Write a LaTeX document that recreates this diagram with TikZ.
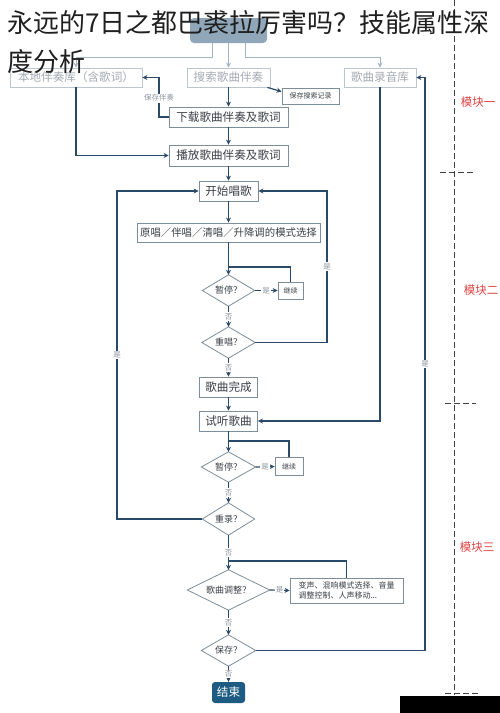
\documentclass[tikz,border=0pt]{standalone}
\usepackage{fontspec}
\newfontfamily\cjk{Noto Sans CJK SC}
\usetikzlibrary{arrows.meta,calc}
\definecolor{lnc}{HTML}{2B4A6A}
\definecolor{lnlight}{HTML}{A3B5C4}
\definecolor{bx}{HTML}{7D8D99}
\definecolor{bxlight}{HTML}{BCC6CE}
\definecolor{tx}{HTML}{3A3F45}
\definecolor{txlight}{HTML}{A3ABB3}
\definecolor{labc}{HTML}{8E969E}
\definecolor{modred}{HTML}{E04040}
\definecolor{topfill}{HTML}{8FA7B8}
\definecolor{endfill}{HTML}{1D5B82}
\begin{document}
\begin{tikzpicture}[x=1pt,y=-1pt,
  box/.style={draw=bx, line width=0.8pt, fill=white, inner sep=0pt, font=\cjk\fontsize{11.6}{12}\selectfont, text=tx},
  boxlt/.style={box, draw=bxlight, text=txlight},
  sbox/.style={box, font=\cjk\fontsize{7}{8}\selectfont},
  dnode/.style={inner sep=0pt, font=\cjk\fontsize{9}{10}\selectfont, text=tx},
  dia/.style={draw=bx, line width=0.8pt},
  conn/.style={draw=lnc, line width=1.2pt},
  arr/.style={conn, -{Stealth[length=5pt,width=5pt]}},
  arrlt/.style={draw=lnlight, line width=1pt, -{Stealth[length=5pt,width=5pt]}},
  lab/.style={fill=white, inner sep=1pt, font=\cjk\fontsize{7.5}{8}\selectfont, text=labc},
  modlab/.style={font=\cjk\fontsize{11.5}{12}\selectfont, text=modred, inner sep=0pt},
  divider/.style={draw=black!75, line width=0.8pt, dash pattern=on 6pt off 3pt}
]
\useasboundingbox (0,0) rectangle (500,713);

% top row
\node[fill=topfill, rounded corners=4pt, minimum width=77pt, minimum height=25pt] (top) at (228.5,30.5) {};
\node[boxlt, minimum width=132pt, minimum height=19pt] (local) at (76,77.5) {本地伴奏库（含歌词）};
\node[boxlt, minimum width=83pt, minimum height=19pt] (search) at (228.5,77.5) {搜索歌曲伴奏};
\node[boxlt, minimum width=72pt, minimum height=19pt] (rec) at (380,77.5) {歌曲录音库};
\node[sbox, minimum width=57pt, minimum height=16pt] (ss) at (310.5,96) {保存搜索记录};
\node[box, minimum width=119pt, minimum height=20pt] (dl) at (228.5,117) {下载歌曲伴奏及歌词};
\node[box, minimum width=119pt, minimum height=21pt] (play) at (228.5,155.5) {播放歌曲伴奏及歌词};

% module two
\node[box, minimum width=59pt, minimum height=20pt] (start) at (228.5,191) {开始唱歌};
\node[box, minimum width=183pt, minimum height=19pt, font=\cjk\fontsize{10.4}{12}\selectfont] (mode) at (228.5,232.5) {原唱／伴唱／清唱／升降调的模式选择};
\node[dnode, minimum width=52pt, minimum height=31pt] (p1) at (228.5,290.5) {暂停？};
\node[sbox, minimum width=25pt, minimum height=17pt] (c1) at (290.5,290.5) {继续};
\node[dnode, minimum width=53pt, minimum height=31pt] (rs) at (228.5,342.5) {重唱？};
\node[box, minimum width=58pt, minimum height=20pt] (done) at (228.5,387) {歌曲完成};

% module three
\node[box, minimum width=58pt, minimum height=20pt] (listen) at (228.5,421) {试听歌曲};
\node[dnode, minimum width=54pt, minimum height=30pt] (p2) at (228.5,467) {暂停？};
\node[sbox, minimum width=28pt, minimum height=18pt] (c2) at (289,466.5) {继续};
\node[dnode, minimum width=52pt, minimum height=32pt] (rr) at (228.5,519) {重录？};
\node[dnode, minimum width=82pt, minimum height=40pt] (aq) at (228.5,590) {歌曲调整？};
\node[box, minimum width=113pt, minimum height=25pt, align=left, font=\cjk\fontsize{8}{10}\selectfont] (adj) at (346.5,590.5) {变声、混响模式选择、音量\\调整控制、人声移动...};
\node[dnode, minimum width=54pt, minimum height=31pt] (sq) at (228.5,650.5) {保存？};
\node[fill=endfill, rounded corners=3pt, minimum width=33pt, minimum height=21pt, inner sep=0pt, text=white, font=\cjk\fontsize{11.6}{12}\selectfont] (end) at (228.5,692.5) {结束};

\foreach \n in {p1,rs,p2,rr,aq,sq}
  \draw[dia] (\n.north) -- (\n.east) -- (\n.south) -- (\n.west) -- cycle;

% helper coordinates
\coordinate (tl) at (212,57);
\coordinate (tr) at (245,57);
\coordinate (sv) at (159,117);
\coordinate (lx) at (117,0);
\coordinate (rx) at (327,0);
\coordinate (Rx) at (425,0);
\coordinate (j1) at (228.5,267);
\coordinate (j2) at (228.5,441);
\coordinate (j3) at (228.5,561);

% light connectors from top
\draw[arrlt] (top.south -| tl) -- (tl) -| (local.north);
\draw[arrlt] (top.south) -- (search.north);
\draw[arrlt] (top.south -| tr) -- (tr) -| (rec.north);

% module one connectors
\draw[arr] ([xshift=-3pt]search.south east) -- ([yshift=-4pt]ss.north west);
\draw[arr] (search.south) -- (dl.north);
\draw[arr] (dl.west) -- (sv) |- node[lab, pos=0.24]{保存伴奏} (local.east);
\draw[arr] (dl.south) -- (play.north);
\draw[arr] (local.south) |- (play.west);
\draw[arr] (play.south) -- (start.north);

% module two connectors
\draw[arr] (start.south) -- (mode.north);
\draw[arr] (mode.south) -- (p1.north);
\draw[conn] (c1.north) |- (j1);
\draw[arr] (p1.east) -- node[lab]{是} (c1.west);
\draw[arr] (p1.south) -- node[lab]{否} (rs.north);
\draw[arr] (rs.east) -- (rs.east -| rx) -- node[lab]{是} (start.east -| rx) -- (start.east);
\draw[arr] (rs.south) -- node[lab]{否} (done.north);

% module three connectors
\draw[arr] (done.south) -- (listen.north);
\draw[arr] (rec.south) |- (listen.east);
\draw[arr] (listen.south) -- (p2.north);
\draw[conn] (c2.north) |- (j2);
\draw[arr] (p2.east) -- node[lab]{是} (c2.west);
\draw[arr] (p2.south) -- node[lab]{否} (rr.north);
\draw[arr] (rr.west) -- (rr.west -| lx) -- node[lab]{是} (start.west -| lx) -- (start.west);
\draw[arr] (rr.south) -- node[lab]{否} (aq.north);
\draw[conn] (adj.north) |- (j3);
\draw[arr] (aq.east) -- node[lab]{是} (adj.west);
\draw[arr] (aq.south) -- node[lab]{否} (sq.north);
\draw[arr] (sq.east) -- (sq.east -| Rx) -- node[lab]{是} (rec.east -| Rx) -- (rec.east);
\draw[arr] (sq.south) -- node[lab]{否} (end.north);

% module divider
\coordinate (dtop) at (454,0);
\coordinate (dbot) at (454,695);
\draw[divider] (dtop) -- (dbot);
\coordinate (h1a) at (440,172); \coordinate (h1b) at (476,172);
\coordinate (h2a) at (445,403); \coordinate (h2b) at (476,403);
\coordinate (h3a) at (445,693); \coordinate (h3b) at (478,693);
\draw[divider] (h1a) -- (h1b);
\draw[divider] (h2a) -- (h2b);
\draw[divider] (h3a) -- (h3b);
\node[modlab] (m1) at (478,102) {模块一};
\node[modlab] (m2) at (481,290) {模块二};
\node[modlab] (m3) at (477,547) {模块三};

% dark corner
\fill[black] (400,696) rectangle (500,713);

% title
\node[anchor=west, inner sep=0pt, font=\cjk\fontsize{26}{26}\selectfont, text=black!88] (t1) at (7,23) {永远的7日之都巴裘拉厉害吗？技能属性深};
\node[anchor=west, inner sep=0pt, font=\cjk\fontsize{26}{26}\selectfont, text=black!88] (t2) at (7,62) {度分析};
\end{tikzpicture}
\end{document}
